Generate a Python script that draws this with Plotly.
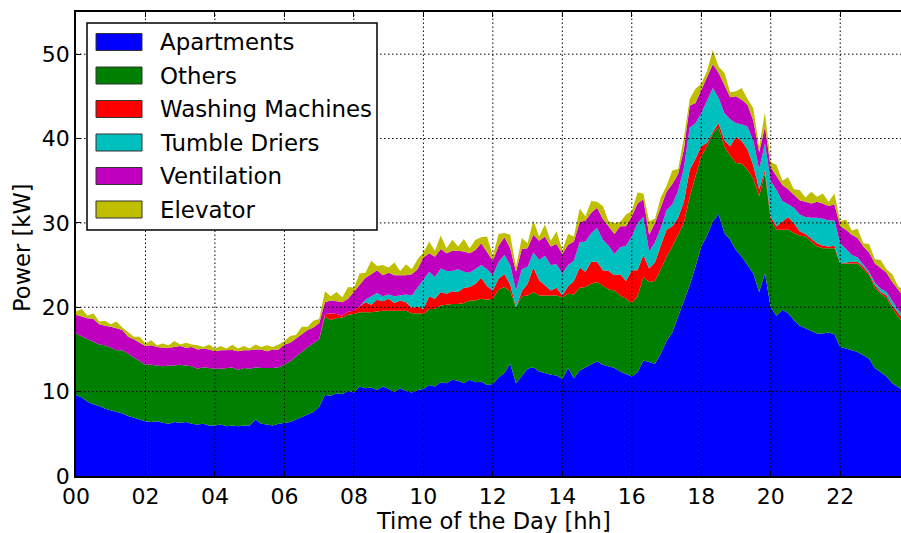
import plotly.graph_objects as go

# time axis: 10-minute samples
minutes = list(range(0, 24 * 60, 10))
hours = [m / 60 for m in minutes]

tick_hours = [0, 2, 4, 6, 8, 10, 12, 14, 16, 18, 20, 22]
tick_labels = ["00", "02", "04", "06", "08", "10", "12", "14", "16", "18", "20", "22"]
y_ticks = [0, 10, 20, 30, 40, 50]

series_names = ["Apartments", "Others", "Washing Machines", "Tumble Driers", "Ventilation", "Elevator"]
series_colors = ["#0000FF", "#008000", "#FF0000", "#00BFBF", "#BF00BF", "#BFBF00"]

apartments = [
    9.6, 9.3, 8.8, 8.5, 8.3, 8.0,
    7.8, 7.6, 7.4, 7.1, 6.9, 6.7,
    6.5, 6.4, 6.5, 6.3, 6.2, 6.4,
    6.3, 6.4, 6.2, 6.1, 6.2, 6.0,
    6.0, 6.1, 5.9, 6.0, 5.9, 6.0,
    6.0, 6.7, 6.2, 6.1, 6.0, 6.2,
    6.3, 6.4, 6.7, 7.0, 7.3, 7.6,
    8.2, 9.6, 9.5, 9.8, 9.7, 10.1,
    9.9, 10.6, 10.4, 10.5, 10.2, 10.6,
    10.3, 10.0, 10.4, 10.1, 9.9, 10.2,
    10.3, 10.8, 10.6, 11.1, 11.0, 11.4,
    11.3, 11.0, 11.4, 11.1, 11.2, 10.8,
    10.9, 11.7, 12.2, 13.3, 11.0, 11.9,
    12.7, 12.9, 12.4, 12.2, 12.0, 11.9,
    11.5, 12.8, 11.6, 12.5, 12.9, 13.2,
    13.6, 13.2, 13.0, 12.8, 12.4, 12.1,
    11.8, 12.3, 13.7, 13.5, 13.3, 14.5,
    16.0, 17.0, 18.8, 20.8, 22.6, 24.8,
    27.2, 28.5, 30.2, 31.0, 28.8, 28.0,
    26.8, 26.0, 25.0, 24.0, 21.8, 24.0,
    20.0, 19.0, 19.7, 19.3, 18.5, 17.8,
    17.5, 17.2, 16.9, 16.9, 17.0, 16.8,
    15.3, 15.1, 14.9, 14.7, 14.3, 13.9,
    12.8, 12.3, 11.8, 11.0, 10.5, 10.1,
]

others = [
    7.3, 7.2, 7.4, 7.4, 7.3, 7.5,
    7.4, 7.3, 7.5, 7.4, 7.2, 7.0,
    6.7, 6.8, 6.6, 6.7, 6.9, 6.7,
    6.9, 6.7, 6.8, 6.6, 6.7, 6.8,
    6.7, 6.6, 6.9, 6.85, 6.7, 6.8,
    6.7, 6.2, 6.6, 6.7, 6.8, 6.7,
    6.9, 7.2, 7.5, 7.8, 8.0, 8.1,
    8.0, 9.3, 9.0, 8.9, 9.1, 9.0,
    9.3, 8.8, 9.0, 8.9, 9.3, 9.0,
    9.3, 9.6, 9.2, 9.5, 9.4, 9.1,
    8.9, 9.0, 9.2, 9.1, 9.3, 9.0,
    9.1, 9.5, 9.4, 9.7, 9.8, 10.1,
    10.1, 10.4, 10.2, 8.6, 9.0, 9.4,
    8.7, 8.9, 9.0, 9.2, 9.4, 9.5,
    9.7, 8.8, 9.9, 9.8, 9.5, 9.6,
    9.4, 9.3, 9.1, 9.2, 9.0, 8.9,
    8.7, 9.0, 9.9, 9.5, 9.8, 10.0,
    10.0, 10.2, 9.8, 9.2, 10.5, 10.6,
    10.7, 10.6, 10.4, 10.3, 10.2, 10.0,
    10.3, 11.0, 11.3, 11.2, 11.4, 11.9,
    10.3, 10.2, 9.5, 9.9, 10.3, 10.7,
    10.9, 10.6, 10.3, 10.1, 10.0, 10.2,
    9.9, 10.1, 10.3, 10.5, 10.2, 9.9,
    9.5, 9.3, 9.3, 8.9, 8.4, 8.0,
]

washing_machines = [
    0, 0, 0, 0, 0, 0,
    0, 0, 0, 0, 0, 0,
    0, 0, 0, 0, 0, 0,
    0, 0, 0, 0, 0, 0,
    0, 0, 0, 0, 0, 0,
    0, 0, 0, 0, 0, 0,
    0, 0, 0, 0, 0, 0,
    0.0, 0.3, 0.8, 0.5, 0.2, 0.4,
    0.4, 0.7, 1.2, 0.9, 1.4, 1.1,
    1.4, 0.9, 1.2, 1.0, 0.6, 0.8,
    0.6, 1.5, 1.2, 1.6, 1.3, 1.5,
    1.4, 1.8, 1.6, 2.0, 2.5, 1.6,
    1.0, 1.3, 1.5, 0.8, 0.0, 0.6,
    1.4, 2.9, 1.8, 1.2, 0.6, 0.9,
    0.2, 0.9, 1.6, 2.4, 1.8, 2.6,
    2.4, 1.9, 2.2, 1.8, 2.5, 2.1,
    3.9, 3.1, 2.6, 1.6, 2.2, 2.8,
    3.2, 2.4, 2.0, 2.5, 3.2, 2.2,
    1.2, 0.4, 0.2, 0.5, 0.8, 1.1,
    3.1, 2.7, 2.4, 1.6, 0.8, 0.4,
    0.4, 0.4, 0.9, 1.5, 1.2, 0.5,
    0.3, 0.4, 0.4, 0.3, 0.2, 0.3,
    0.0, 0.1, 0.2, 0.2, 0.3, 0.2,
    0.3, 0.2, 0.3, 0.3, 0.4, 0.4,
]

tumble_driers = [
    0, 0, 0, 0, 0, 0,
    0, 0, 0, 0, 0, 0,
    0, 0, 0, 0, 0, 0,
    0, 0, 0, 0, 0, 0,
    0, 0, 0, 0, 0, 0,
    0, 0, 0, 0, 0, 0,
    0, 0, 0, 0, 0, 0,
    0, 0, 0, 0, 0, 0,
    0.0, 0.0, 0.3, 1.0, 0.8, 0.6,
    0.5, 0.8, 0.6, 0.9, 1.5, 2.2,
    3.5, 2.9, 2.6, 2.8, 2.7, 2.4,
    2.7, 1.9, 1.7, 1.8, 1.5, 2.0,
    1.8, 2.0, 2.3, 2.3, 2.0, 2.6,
    2.0, 1.8, 2.4, 3.5, 3.0, 2.8,
    2.6, 2.5, 2.4, 3.0, 3.6, 3.4,
    4.0, 3.6, 3.0, 2.5, 3.2, 4.2,
    4.0, 5.6, 4.5, 2.0, 2.4, 2.1,
    2.3, 2.6, 3.2, 4.0, 5.0, 4.2,
    3.9, 5.0, 5.2, 3.0, 3.2, 3.2,
    1.6, 2.0, 2.7, 2.9, 2.4, 3.1,
    4.3, 4.3, 2.5, 1.5, 1.8, 2.0,
    2.0, 2.4, 3.0, 3.2, 3.1, 3.0,
    2.4, 1.6, 0.8, 0.5, 0.2, 0.2,
    0.3, 0.4, 0.4, 0.5, 0.4, 0.4,
]

ventilation = [
    2.2, 2.4, 2.5, 2.7, 2.4, 2.3,
    2.5, 2.6, 2.4, 2.0, 2.1, 2.1,
    2.2, 2.3, 2.2, 2.2, 2.1, 2.2,
    2.2, 2.1, 2.3, 2.3, 2.2, 2.2,
    2.1, 2.2, 2.1, 2.1, 2.2, 2.1,
    2.2, 2.1, 2.2, 2.0, 2.2, 2.1,
    2.4, 2.2, 2.1, 2.0, 2.0, 1.9,
    1.9, 1.4, 1.5, 1.5, 1.6, 1.5,
    2.2, 2.5, 2.6, 2.6, 2.7, 2.5,
    2.6, 2.5, 2.4, 2.3, 2.5, 2.2,
    2.6, 2.2, 2.4, 2.3, 2.1, 2.4,
    2.2, 2.4, 2.3, 2.2, 2.6, 2.1,
    1.7, 1.9, 2.1, 2.0, 2.2, 2.4,
    2.2, 2.1, 2.3, 2.3, 2.2, 2.4,
    2.3, 2.4, 2.3, 2.4, 2.5, 2.4,
    2.4, 2.5, 2.3, 2.4, 2.5, 2.3,
    2.4, 2.3, 2.1, 2.0, 2.3, 2.4,
    2.2, 2.4, 2.0, 2.2, 2.6, 2.4,
    2.8, 2.7, 2.8, 3.0, 3.3, 2.6,
    3.2, 2.9, 2.6, 2.4, 2.0, 2.0,
    1.6, 1.7, 1.9, 1.8, 1.6, 1.7,
    1.8, 1.7, 1.9, 1.8, 1.7, 1.9,
    2.0, 2.3, 2.4, 2.3, 2.2, 2.3,
    2.3, 2.4, 2.3, 2.3, 2.4, 2.3,
]

elevator = [
    0.4, 0.9, 0.3, 0.7, 0.3, 0.6,
    0.3, 0.8, 0.3, 0.6, 0.3, 0.7,
    0.3, 0.6, 0.2, 0.5, 0.3, 0.7,
    0.2, 0.6, 0.3, 0.5, 0.2, 0.6,
    0.3, 0.5, 0.2, 0.6, 0.3, 0.5,
    0.2, 0.6, 0.3, 0.7, 0.3, 0.6,
    0.4, 0.8, 0.4, 0.9, 0.4, 0.8,
    0.5, 1.3, 0.5, 1.1, 0.6, 1.4,
    0.5, 1.4, 0.6, 1.6, 0.5, 1.2,
    0.6, 1.5, 0.5, 1.3, 0.6, 1.2,
    0.6, 1.4, 0.7, 1.6, 0.6, 1.3,
    0.5, 1.5, 0.6, 1.2, 0.7, 1.8,
    0.6, 1.4, 0.5, 1.6, 0.6, 1.3,
    0.6, 1.7, 0.5, 1.4, 0.7, 1.5,
    0.5, 1.3, 0.6, 1.6, 0.5, 1.4,
    0.7, 1.5, 0.6, 1.3, 0.5, 1.4,
    0.6, 1.3, 0.7, 1.6, 0.5, 1.2,
    0.7, 1.6, 0.6, 1.4, 0.8, 1.7,
    0.7, 0.8, 1.7, 0.7, 1.5, 0.6,
    0.6, 1.4, 0.7, 1.5, 0.6, 1.7,
    0.6, 1.3, 0.5, 1.4, 0.6, 1.2,
    0.5, 1.4, 0.6, 1.2, 0.5, 1.3,
    0.6, 1.2, 0.5, 1.1, 0.4, 1.0,
    0.5, 1.0, 0.4, 0.9, 0.4, 0.8,
]

series_values = [apartments, others, washing_machines, tumble_driers, ventilation, elevator]

FONT = "DejaVu Sans"
FS_TICK = 22
FS_TITLE = 22.6
FS_LEG = 22.9
W, H = 901, 533
ML, MR, MT, MB = 76, 0, 12, 57
PW, PH = W - ML - MR, H - MT - MB


def px(x):
    return (x - ML) / PW


def py(y):
    return (H - MB - y) / PH


fig = go.Figure()
for name, color, vals in zip(series_names, series_colors, series_values):
    fig.add_trace(go.Scatter(
        x=hours, y=vals, name=name, mode="lines",
        line=dict(width=0, color=color), fillcolor=color,
        stackgroup="one", showlegend=False, hoverinfo="skip",
    ))

shapes = []
# grid lines drawn above the areas (matplotlib style)
for t in tick_hours[1:]:
    shapes.append(dict(type="line", xref="x", yref="paper", x0=t, x1=t, y0=0, y1=1,
                       line=dict(color="black", width=1, dash="1.5px,2.5px"), layer="above"))
for v in y_ticks[1:]:
    shapes.append(dict(type="line", xref="paper", yref="y", x0=0, x1=1, y0=v, y1=v,
                       line=dict(color="black", width=1, dash="1.5px,2.5px"), layer="above"))

# legend box
shapes.append(dict(type="rect", xref="paper", yref="paper",
                   x0=px(87), x1=px(377), y0=py(230), y1=py(23),
                   fillcolor="white", line=dict(color="black", width=1.5), layer="above"))
annotations = []
row_y = [42, 75.5, 109, 142.5, 176, 209.5]
for name, color, ry in zip(series_names, series_colors, row_y):
    shapes.append(dict(type="rect", xref="paper", yref="paper",
                       x0=px(96), x1=px(142), y0=py(ry + 8.5), y1=py(ry - 8.5),
                       fillcolor=color, line=dict(color="#333333", width=1), layer="above"))
    annotations.append(dict(xref="paper", yref="paper", x=px(158), y=py(ry),
                            text=name, showarrow=False, xanchor="left", yanchor="middle",
                            font=dict(family=FONT, size=FS_LEG, color="black")))

# axis titles
annotations.append(dict(xref="paper", yref="paper", x=px(493), y=py(521),
                        text="Time of the Day [hh]", showarrow=False,
                        xanchor="center", yanchor="middle",
                        font=dict(family=FONT, size=FS_TITLE, color="black")))
annotations.append(dict(xref="paper", yref="paper", x=px(22), y=py(247),
                        text="Power [kW]", showarrow=False, textangle=-90,
                        xanchor="center", yanchor="middle",
                        font=dict(family=FONT, size=FS_TITLE, color="black")))

fig.update_layout(
    width=W, height=H,
    margin=dict(l=ML, r=MR, t=MT, b=MB, autoexpand=False),
    paper_bgcolor="white", plot_bgcolor="white",
    font=dict(family=FONT, size=FS_TICK, color="black"),
    shapes=shapes, annotations=annotations,
    showlegend=False,
)
fig.update_xaxes(
    range=[0, 23.75], tickvals=tick_hours, ticktext=tick_labels,
    ticks="inside", ticklen=5, tickwidth=1, tickcolor="black",
    showline=True, linecolor="black", linewidth=1.5, mirror="ticks",
    showgrid=False, zeroline=False, automargin=False,
    tickfont=dict(family=FONT, size=FS_TICK),
)
fig.update_yaxes(
    range=[0, 55], tickvals=y_ticks,
    ticks="inside", ticklen=5, tickwidth=1, tickcolor="black",
    showline=True, linecolor="black", linewidth=1.5, mirror=False,
    showgrid=False, zeroline=False, automargin=False,
    tickfont=dict(family=FONT, size=FS_TICK),
)

fig.write_html(
    "out.html",
    config={"displayModeBar": False},
    post_script="document.body.style.margin='0px';document.body.style.padding='0px';document.body.style.overflow='hidden';",
)
